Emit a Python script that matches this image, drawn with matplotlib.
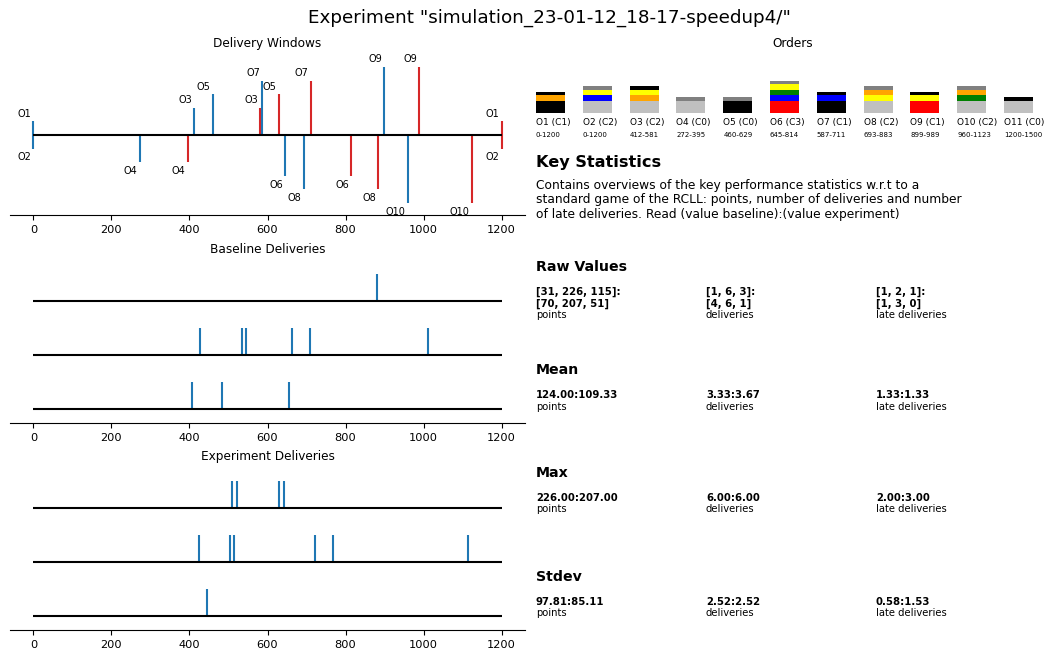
import numpy as np
import matplotlib
matplotlib.use("Agg")
import matplotlib.pyplot as plt

# ---------------------------------------------------------------- data
order_names = ["O1", "O2", "O3", "O4", "O5", "O6", "O7", "O8", "O9", "O10", "O11"]
order_complexity = ["C1", "C2", "C2", "C0", "C0", "C3", "C1", "C2", "C1", "C2", "C0"]
window_start = [0, 0, 412, 272, 460, 645, 587, 693, 899, 960, 1200]
window_end = [1200, 1200, 581, 395, 629, 814, 711, 883, 989, 1123, 1500]
order_base = ["black", "silver", "silver", "silver", "black", "red",
              "black", "silver", "red", "silver", "silver"]
order_rings = [["orange"], ["blue", "yellow"], ["orange", "yellow"], [], [],
               ["blue", "green", "yellow"], ["blue"], ["yellow", "orange"],
               ["yellow"], ["green", "orange"], []]
order_cap = ["black", "gray", "black", "gray", "gray", "gray",
             "black", "gray", "black", "gray", "black"]

# delivery times per game (game 1 first)
baseline_deliveries = [[880],
                       [426, 534, 544, 663, 710, 1011],
                       [407, 483, 655]]
experiment_deliveries = [[509, 522, 629, 642],
                         [425, 504, 515, 722, 768, 1114],
                         [446]]

baseline_points = [31, 226, 115]
experiment_points = [70, 207, 51]
baseline_late = [1, 2, 1]
experiment_late = [1, 3, 0]

GAME_LENGTH = 1200
xticks = [0, 200, 400, 600, 800, 1000, 1200]

# ---------------------------------------------------------------- figure
W, H, DPI = 1046, 648, 100
fig = plt.figure(figsize=(W / DPI, H / DPI), dpi=DPI)

BLUE = "#1f77b4"
RED = "#d62728"


def px_axes(left, top, right, bottom):
    """Create axes from pixel box (origin at top-left of the figure)."""
    return fig.add_axes([left / W, 1 - bottom / H, (right - left) / W, (bottom - top) / H])


def fig_text(x, y, s, **kw):
    fig.text(x / W, 1 - y / H, s, **kw)


def style_time_axis(ax):
    for side in ("top", "left", "right"):
        ax.spines[side].set_visible(False)
    ax.spines["bottom"].set_linewidth(0.8)
    ax.set_yticks([])
    ax.set_xlim(-60, 1260)
    ax.set_xticks(xticks)
    ax.tick_params(axis="x", labelsize=8.2)


fig.suptitle('Experiment "simulation_23-01-12_18-17-speedup4/"', fontsize=13.2,
             x=549 / W, y=1 - 18 / H, va="center")

LEFT, RIGHT = 10, 525

# ---------------------------------------------------------- delivery windows
ax_w = px_axes(LEFT, 55, RIGHT, 215)
style_time_axis(ax_w)
ax_w.set_title("Delivery Windows", fontsize=8.7)
ax_w.hlines(0, 0, GAME_LENGTH, color="black", lw=1.5, zorder=3)
for i, (name, s, e) in enumerate(zip(order_names, window_start, window_end)):
    if s >= GAME_LENGTH:
        continue
    level = (i // 2 + 1) * (1 if i % 2 == 0 else -1)
    va = "bottom" if level > 0 else "top"
    dy = 1.9 if level > 0 else -2.8
    for x, c in ((s, BLUE), (e, RED)):
        ax_w.vlines(x, 0, level, color=c, lw=1.5)
        ax_w.annotate(name, (x, level), xytext=(-1.5, dy), textcoords="offset points",
                      ha="right", va=va, fontsize=7)
ax_w.set_ylim(-5.88, 5.88)


# ---------------------------------------------------------- deliveries
def delivery_axes(top, bottom, title, games):
    ax = px_axes(LEFT, top, RIGHT, bottom)
    style_time_axis(ax)
    ax.set_title(title, fontsize=8.7)
    n = len(games)
    for r, times in enumerate(games):
        y = n - 1 - r
        ax.hlines(y, 0, GAME_LENGTH, color="black", lw=1.5, zorder=3)
        ax.vlines(times, y, y + 0.5, color=BLUE, lw=1.5)
    ax.set_ylim(-0.259, 2.741)
    return ax


delivery_axes(261, 423, "Baseline Deliveries", baseline_deliveries)
delivery_axes(468, 630, "Experiment Deliveries", experiment_deliveries)

# ---------------------------------------------------------- orders
ax_o = px_axes(536, 55, 1050, 145)
ax_o.set_axis_off()
ax_o.set_title("Orders", fontsize=8.7)
ax_o.set_xlim(-0.31, 10.673)
ax_o.set_ylim(0, 90)
BASE_Y, BASE_H, RING_H, CAP_H, BOX_W = 32.3, 11.8, 5.6, 3.6, 0.62
for i, name in enumerate(order_names):
    y = BASE_Y
    ax_o.bar(i, BASE_H, bottom=y, width=BOX_W, color=order_base[i], lw=0)
    y += BASE_H
    for rc in order_rings[i]:
        ax_o.bar(i, RING_H, bottom=y, width=BOX_W, color=rc, lw=0)
        y += RING_H
    ax_o.bar(i, CAP_H, bottom=y, width=BOX_W, color=order_cap[i], lw=0)
    ax_o.text(i - BOX_W / 2, 22.5, f"{name} ({order_complexity[i]})",
              ha="left", va="center", fontsize=6.5)
    ax_o.text(i - BOX_W / 2, 10, f"{window_start[i]}-{window_end[i]}",
              ha="left", va="center", fontsize=5)

# ---------------------------------------------------------- key statistics
fig_text(536, 162, "Key Statistics", fontsize=11.6, fontweight="bold", va="center")
fig_text(536, 179,
         "Contains overviews of the key performance statistics w.r.t to a\n"
         "standard game of the RCLL: points, number of deliveries and number\n"
         "of late deliveries. Read (value baseline):(value experiment)",
         fontsize=8.8, va="top", linespacing=1.15)

baseline_count = [len(t) for t in baseline_deliveries]
experiment_count = [len(t) for t in experiment_deliveries]
metrics = [("points", baseline_points, experiment_points),
           ("deliveries", baseline_count, experiment_count),
           ("late deliveries", baseline_late, experiment_late)]
columns_x = [536, 706, 876]


def fmt(func):
    return lambda b, e: f"{func(b):.2f}:{func(e):.2f}"


sections = [
    ("Raw Values", 267, lambda b, e: f"{b}:\n{e}"),
    ("Mean", 370, fmt(np.mean)),
    ("Max", 473, fmt(np.max)),
    ("Stdev", 577, fmt(lambda v: np.std(v, ddof=1))),
]
for title, y, func in sections:
    fig_text(536, y, title, fontsize=10.2, fontweight="bold", va="center")
    for x, (label, b, e) in zip(columns_x, metrics):
        value = func(list(b), list(e))
        n_lines = value.count("\n") + 1
        fig_text(x, y + 20, value, fontsize=7.3, fontweight="bold", va="top",
                 linespacing=1.15)
        fig_text(x, y + 20 + 11.5 * n_lines, label, fontsize=7.2, va="top")

fig.savefig("out.png", dpi=DPI)
